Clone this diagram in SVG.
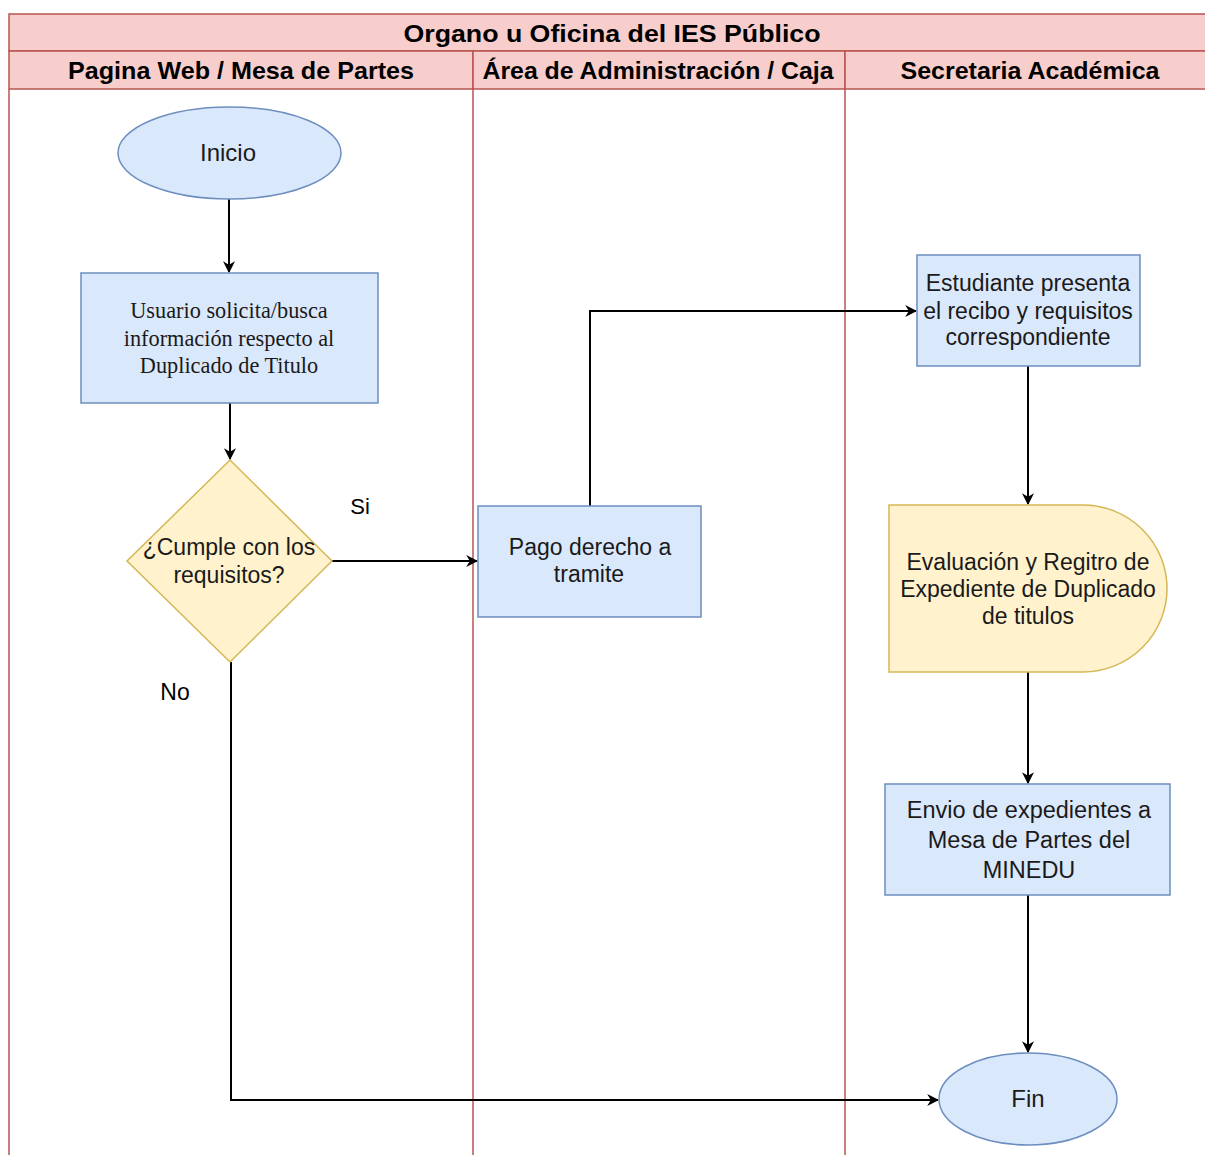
<svg xmlns="http://www.w3.org/2000/svg" width="1205" height="1155" viewBox="0 0 1205 1155">
<style>
.hdr{fill:#f8cecc;stroke:#b85450;stroke-width:1.5}
.lane{fill:none;stroke:#b85450;stroke-width:1.5}
.ht{font-family:"Liberation Sans",Arial,sans-serif;font-weight:bold;font-size:24px;fill:#000;text-anchor:middle}
.blue{fill:#dae8fc;stroke:#6c8ebf;stroke-width:1.5}
.yel{fill:#fff2cc;stroke:#d6b656;stroke-width:1.5}
.t{font-family:"Liberation Sans",Arial,sans-serif;font-size:23px;fill:#1a1a1a;text-anchor:middle}
.ts{font-family:"Liberation Serif","Times New Roman",serif;font-size:22.3px;fill:#1a1a1a;text-anchor:middle}
.lbl{font-family:"Liberation Sans",Arial,sans-serif;font-size:22px;fill:#000;text-anchor:middle}
.edge{fill:none;stroke:#000;stroke-width:2}
</style>
<defs>
<marker id="arr" viewBox="0 0 10 10" refX="9" refY="5" markerWidth="12" markerHeight="12" markerUnits="userSpaceOnUse" orient="auto">
<path d="M0,0 L10,5 L0,10 L3,5 Z" fill="#000"/>
</marker>
</defs>
<rect width="1205" height="1155" fill="#fff"/>
<g id="pool">
<rect class="hdr" x="9" y="14" width="1200" height="37"/>
<text class="ht" x="612" y="42" textLength="417" lengthAdjust="spacingAndGlyphs">Organo u Oficina del IES Público</text>
<rect class="hdr" x="9" y="51" width="464" height="38"/>
<rect class="hdr" x="473" y="51" width="372" height="38"/>
<rect class="hdr" x="845" y="51" width="364" height="38"/>
<text class="ht" x="241" y="79" textLength="346" lengthAdjust="spacingAndGlyphs">Pagina Web / Mesa de Partes</text>
<text class="ht" x="658" y="79" textLength="351" lengthAdjust="spacingAndGlyphs">Área de Administración / Caja</text>
<text class="ht" x="1030" y="79" textLength="259" lengthAdjust="spacingAndGlyphs">Secretaria Académica</text>
<line class="lane" x1="9" y1="89" x2="9" y2="1160"/>
<line class="lane" x1="473" y1="89" x2="473" y2="1160"/>
<line class="lane" x1="845" y1="89" x2="845" y2="1160"/>
</g>
<g id="connectors">
<path class="edge" d="M229,199 V272" marker-end="url(#arr)"/>
<path class="edge" d="M230,403 V459" marker-end="url(#arr)"/>
<path class="edge" d="M332,561 H477" marker-end="url(#arr)"/>
<path class="edge" d="M590,506 V311 H916" marker-end="url(#arr)"/>
<path class="edge" d="M1028,366 V504" marker-end="url(#arr)"/>
<path class="edge" d="M1028,672 V783" marker-end="url(#arr)"/>
<path class="edge" d="M1028,895 V1052" marker-end="url(#arr)"/>
<path class="edge" d="M231,662 V1100 H938" marker-end="url(#arr)"/>
<text class="lbl" x="360" y="514">Si</text>
<text class="lbl" x="175" y="700" style="font-size:23px">No</text>
</g>
<g id="inicio">
<ellipse class="blue" cx="229.5" cy="153" rx="111.5" ry="46"/>
<text class="t" x="228" y="161" style="font-size:24px">Inicio</text>
</g>
<g id="usuario">
<rect class="blue" x="81" y="273" width="297" height="130"/>
<text class="ts" x="229" y="318">Usuario solicita/busca</text>
<text class="ts" x="229" y="346">información respecto al</text>
<text class="ts" x="229" y="373">Duplicado de Titulo</text>
</g>
<g id="cumple">
<polygon class="yel" points="230,460 332,561 230,662 127,561"/>
<text class="t" x="229" y="555">¿Cumple con los</text>
<text class="t" x="229" y="583">requisitos?</text>
</g>
<g id="pago">
<rect class="blue" x="478" y="506" width="223" height="111"/>
<text class="t" x="590" y="555">Pago derecho a</text>
<text class="t" x="589" y="582">tramite</text>
</g>
<g id="estudiante">
<rect class="blue" x="917" y="255" width="223" height="111"/>
<text class="t" x="1028" y="291">Estudiante presenta</text>
<text class="t" x="1028" y="319">el recibo y requisitos</text>
<text class="t" x="1028" y="345">correspondiente</text>
</g>
<g id="evaluacion">
<path class="yel" d="M889,505 H1083 A84,83.5 0 0 1 1083,672 H889 Z"/>
<text class="t" x="1028" y="570">Evaluación y Regitro de</text>
<text class="t" x="1028" y="597">Expediente de Duplicado</text>
<text class="t" x="1028" y="624">de titulos</text>
</g>
<g id="envio">
<rect class="blue" x="885" y="784" width="285" height="111"/>
<text class="t" x="1029" y="818" style="font-size:23.5px">Envio de expedientes a</text>
<text class="t" x="1029" y="848" style="font-size:23.5px">Mesa de Partes del</text>
<text class="t" x="1029" y="878" style="font-size:23.5px">MINEDU</text>
</g>
<g id="fin">
<ellipse class="blue" cx="1028" cy="1099" rx="89" ry="46"/>
<text class="t" x="1028" y="1107" style="font-size:24px">Fin</text>
</g>
</svg>
